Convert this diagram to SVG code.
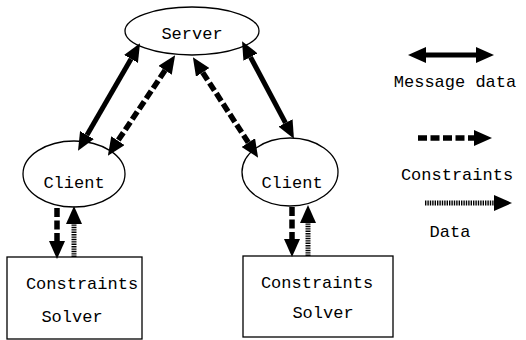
<svg xmlns="http://www.w3.org/2000/svg" width="526" height="340" viewBox="0 0 526 340">
<style>
.n{fill:#fff;stroke:#000;stroke-width:1.3}
.t{font-family:"Liberation Mono","Courier New",monospace;font-size:17px;fill:#000;text-anchor:middle;dominant-baseline:central}
.solid{stroke:#000;stroke-width:5;fill:none}
.dash{stroke:#000;stroke-width:5.5;fill:none;stroke-dasharray:9 3.5}
.dot{stroke:#000;stroke-width:5;fill:none;stroke-dasharray:1.4 1}
</style>
<defs>
<marker id="h" markerUnits="userSpaceOnUse" markerWidth="18" markerHeight="16" refX="0" refY="8" orient="auto-start-reverse" viewBox="0 0 18 16">
<path d="M0,0 L18,8 L0,16 z" fill="#000"/>
</marker>
</defs>
<rect width="526" height="340" fill="#fff"/>
<g id="server"><ellipse class="n" cx="192" cy="31" rx="67" ry="24"/><text class="t" x="192" y="34">Server</text></g>
<g id="client1"><ellipse class="n" cx="74" cy="174" rx="51" ry="33"/><text class="t" x="74" y="183">Client</text></g>
<g id="client2"><ellipse class="n" cx="290" cy="172" rx="48" ry="34"/><text class="t" x="292" y="183">Client</text></g>
<g id="solver1"><rect class="n" x="7" y="257" width="135" height="82"/><text class="t" x="82" y="284">Constraints</text><text class="t" x="72" y="317">Solver</text></g>
<g id="solver2"><rect class="n" x="243" y="256" width="150" height="81"/><text class="t" x="317" y="283">Constraints</text><text class="t" x="323" y="313">Solver</text></g>
<g id="connectors">
<line class="solid" x1="131" y1="58.9" x2="87" y2="135.1" marker-start="url(#h)" marker-end="url(#h)"/>
<line class="dash" x1="165.1" y1="70.3" x2="117.9" y2="140.7" marker-start="url(#h)" marker-end="url(#h)"/>
<line class="dash" x1="202.7" y1="72.4" x2="248.3" y2="142.6" marker-start="url(#h)" marker-end="url(#h)"/>
<line class="solid" x1="250.5" y1="57.1" x2="285.5" y2="122.9" marker-start="url(#h)" marker-end="url(#h)"/>
<line class="dash" x1="57" y1="208" x2="57" y2="241" marker-end="url(#h)"/>
<line class="dot" x1="74" y1="257" x2="74" y2="224" marker-end="url(#h)"/>
<line class="dash" x1="292" y1="207" x2="292" y2="239" marker-end="url(#h)"/>
<line class="dot" x1="308" y1="256" x2="308" y2="223" marker-end="url(#h)"/>
</g>
<g id="legend">
<line class="solid" x1="426" y1="55" x2="476" y2="55" marker-start="url(#h)" marker-end="url(#h)"/>
<text class="t" x="455" y="82">Message data</text>
<line class="dash" x1="418" y1="138" x2="474" y2="138" marker-end="url(#h)"/>
<text class="t" x="457" y="175">Constraints</text>
<line class="dot" x1="425" y1="203" x2="494" y2="203" marker-end="url(#h)"/>
<text class="t" x="450" y="232">Data</text>
</g>
</svg>
